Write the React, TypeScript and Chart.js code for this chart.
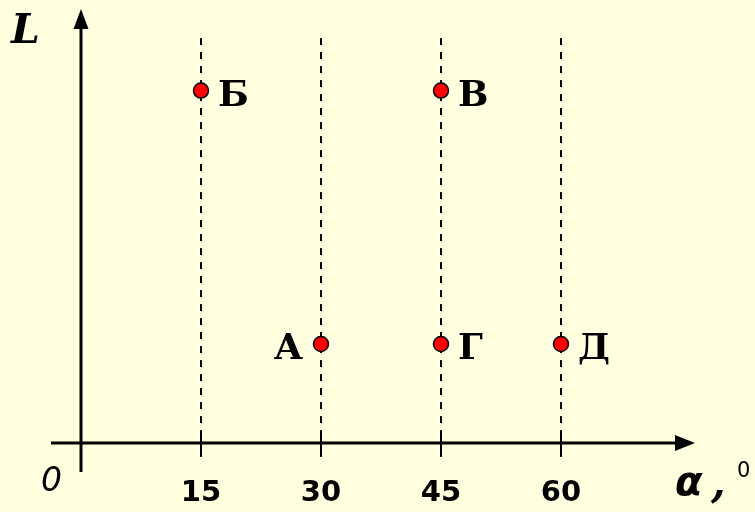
import React, { useEffect, useRef } from "react";
import { Chart, registerables } from "chart.js";

Chart.register(...registerables);

// Data
const pointNames = ["А", "Б", "В", "Г", "Д"];
const alphaValues = [30, 15, 45, 45, 60];
const lValues = [1, 3.56, 3.56, 1, 1];
const tickValues = [15, 30, 45, 60];
const tickLabels = ["15", "30", "45", "60"];
const xTitle = "α";
const yTitle = "L";
const originLabel = "0";
const degreeLabel = "0";

const BG = "#ffffe0";
const SLAB = '"DejaVu Serif"';

const drawPlugin = {
  id: "customAxes",
  beforeDatasetsDraw(chart: any) {
    const ctx = chart.ctx;
    const xs = chart.scales.x;
    const ys = chart.scales.y;
    const area = chart.chartArea;
    const x0 = xs.getPixelForValue(0);
    const y0 = ys.getPixelForValue(0);
    const dashTop = ys.getPixelForValue(4.09);
    ctx.save();
    ctx.strokeStyle = "#000";
    ctx.lineWidth = 2;
    ctx.setLineDash([7, 7]);
    tickValues.forEach((v) => {
      const px = Math.round(xs.getPixelForValue(v));
      ctx.beginPath();
      ctx.moveTo(px, dashTop);
      ctx.lineTo(px, y0);
      ctx.stroke();
    });
    ctx.setLineDash([]);
    ctx.lineWidth = 2;
    tickValues.forEach((v) => {
      const px = Math.round(xs.getPixelForValue(v));
      ctx.beginPath();
      ctx.moveTo(px, y0 - 6);
      ctx.lineTo(px, y0 + 14);
      ctx.stroke();
    });
    ctx.lineWidth = 3;
    ctx.beginPath();
    ctx.moveTo(area.left, y0);
    ctx.lineTo(area.right - 18, y0);
    ctx.stroke();
    ctx.fillStyle = "#000";
    ctx.beginPath();
    ctx.moveTo(area.right, y0);
    ctx.lineTo(area.right - 20, y0 - 8);
    ctx.lineTo(area.right - 20, y0 + 8);
    ctx.closePath();
    ctx.fill();
    ctx.beginPath();
    ctx.moveTo(x0, area.bottom);
    ctx.lineTo(x0, area.top + 18);
    ctx.stroke();
    ctx.beginPath();
    ctx.moveTo(x0, area.top);
    ctx.lineTo(x0 - 7.5, area.top + 20);
    ctx.lineTo(x0 + 7.5, area.top + 20);
    ctx.closePath();
    ctx.fill();
    ctx.textAlign = "center";
    ctx.textBaseline = "alphabetic";
    ctx.font = 'bold 29px "DejaVu Sans"';
    tickValues.forEach((v, i) => {
      const px = xs.getPixelForValue(v);
      ctx.fillText(tickLabels[i], px, 501);
    });
    ctx.textAlign = "left";
    ctx.font = 'italic 33px "DejaVu Sans"';
    ctx.fillText(originLabel, 41, 491);
    ctx.font = "bold italic 41px " + SLAB;
    ctx.fillText(yTitle, 11, 43);
    ctx.font = 'bold oblique 40px "DejaVu Sans"';
    ctx.fillText(xTitle, 675, 495);
    ctx.font = "bold italic 42px " + SLAB;
    ctx.fillText(",", 711, 497);
    ctx.font = '21px "DejaVu Sans"';
    ctx.fillText(degreeLabel, 737, 477);
    ctx.restore();
  },
  afterDatasetsDraw(chart: any) {
    const ctx = chart.ctx;
    const meta = chart.getDatasetMeta(0);
    ctx.save();
    ctx.fillStyle = "#000";
    ctx.font = "bold 36px " + SLAB;
    ctx.textBaseline = "alphabetic";
    meta.data.forEach((el: any, i: number) => {
      const name = pointNames[i];
      if (name === "А") {
        ctx.textAlign = "right";
        ctx.fillText(name, el.x - 18, el.y + 15);
      } else {
        ctx.textAlign = "left";
        ctx.fillText(name, el.x + 17, el.y + 15);
      }
    });
    ctx.restore();
  },
};

export default function App() {
  const ref = useRef<HTMLCanvasElement>(null);
  useEffect(() => {
    document.body.style.margin = "0";
    document.body.style.background = BG;
    const chart = new Chart(ref.current!, {
      type: "scatter",
      data: {
        datasets: [
          {
            data: alphaValues.map((a, i) => ({ x: a, y: lValues[i] })),
            pointRadius: 7.5,
            pointHoverRadius: 7.5,
            backgroundColor: "#ff0000",
            borderColor: "#000",
            borderWidth: 1.5,
          },
        ],
      },
      options: {
        responsive: false,
        animation: false,
        events: [],
        layout: { padding: { left: 51, right: 60, top: 9, bottom: 40 } },
        plugins: { legend: { display: false }, tooltip: { enabled: false } },
        scales: {
          x: { type: "linear", min: -3.75, max: 76.75, display: false },
          y: { type: "linear", min: -0.2929, max: 4.3838, display: false },
        },
      },
      plugins: [drawPlugin],
    });
    return () => chart.destroy();
  }, []);
  return (
    <div style={{ width: 755, height: 512, background: BG }}>
      <canvas ref={ref} width={755} height={512} style={{ display: "block" }} />
    </div>
  );
}
